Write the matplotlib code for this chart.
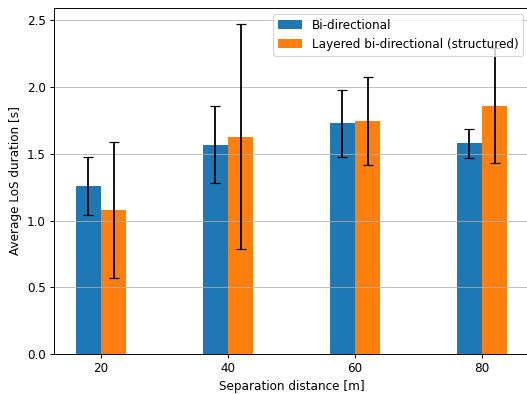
"""Average LoS duration vs separation distance."""

import numpy as np
import matplotlib
matplotlib.use("Agg")
import matplotlib.pyplot as plt

distances = [20, 40, 60, 80]
bidir_mean = [1.26, 1.57, 1.73, 1.58]
bidir_err = [0.22, 0.29, 0.25, 0.11]
layered_mean = [1.08, 1.63, 1.75, 1.86]
layered_err = [0.51, 0.84, 0.33, 0.43]

x = np.array(distances)
width = 4
dpi = 86

fig, ax = plt.subplots(figsize=(527 / dpi, 394 / dpi), dpi=dpi)
fig.subplots_adjust(left=54 / 527, right=529 / 527, top=1 - 8 / 394, bottom=1 - 354 / 394)

ax.bar(x - width / 2, bidir_mean, width, yerr=bidir_err, capsize=4.5,
       color="#1f77b4", label="Bi-directional")
ax.bar(x + width / 2, layered_mean, width, yerr=layered_err, capsize=4.5,
       color="#ff7f0e", label="Layered bi-directional (structured)")

ax.set_xticks(distances)
ax.set_xlabel("Separation distance [m]")
ax.set_ylabel("Average LoS duration [s]")
ax.grid(axis="y", alpha=0.8)
ax.legend(loc="upper right")

fig.savefig("out.png", dpi=dpi)
plt.close(fig)
